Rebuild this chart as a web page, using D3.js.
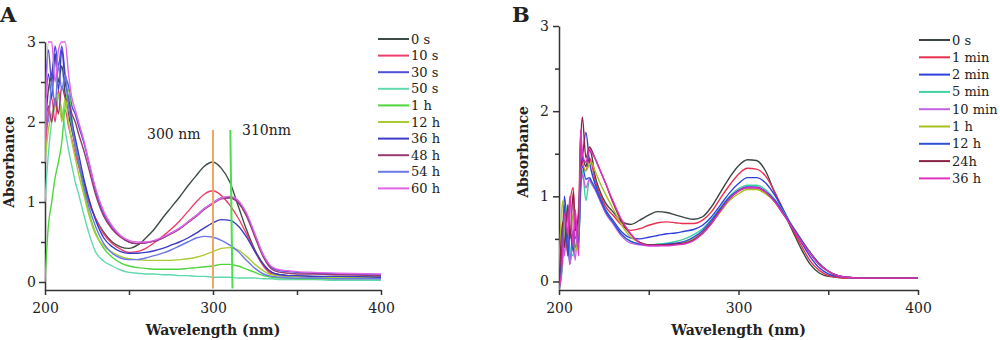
<!DOCTYPE html>
<html>
<head>
<meta charset="utf-8">
<script src="https://cdn.jsdelivr.net/npm/d3@7"></script>
<style>
  body { margin: 0; background: #fff; }
  text { font-family: "DejaVu Serif", serif; fill: #222; }
  .tick text { font-size: 14px; }
  .axis path, .axis line { stroke: #333; stroke-width: 1.5; }
  .title { font-weight: bold; font-size: 14px; }
  .panel { font-weight: bold; font-size: 21px; }
  .legend text { font-size: 13px; }
</style>
</head>
<body>
<div id="chart"></div>
<script>
// ---- panel A: wavelength grid + one array per series ----
const wlA = [200,202,204,206,208,210,212,214,216,218,220,223,226,230,235,240,245,250,255,260,265,270,275,280,285,290,295,300,305,310,315,320,325,330,335,340,345,350,360,375,400];
const namesA = ["0 s", "10 s", "30 s", "50 s", "1 h", "12 h", "36 h", "48 h", "54 h", "60 h"];
const a0s  = [1.9,2.4,2.6,2.85,2.5,2.7,2.35,2.1,1.9,1.7,1.5,1.25,1.02,0.8,0.62,0.5,0.44,0.42,0.46,0.55,0.66,0.8,0.93,1.06,1.2,1.33,1.45,1.5,1.42,1.25,0.95,0.65,0.4,0.22,0.12,0.09,0.08,0.07,0.07,0.06,0.06];
const a10s = [1.6,2.1,2.3,2.0,2.4,2.05,2.15,1.95,1.78,1.6,1.45,1.2,1.0,0.8,0.6,0.48,0.41,0.37,0.38,0.42,0.49,0.57,0.66,0.76,0.88,1.0,1.1,1.14,1.08,0.96,0.8,0.6,0.38,0.2,0.1,0.08,0.07,0.07,0.06,0.06,0.06];
const a30s = [2.3,2.9,2.5,2.95,2.7,2.95,2.6,2.45,2.2,2.1,1.95,1.75,1.5,1.15,0.85,0.68,0.57,0.5,0.48,0.49,0.51,0.55,0.61,0.67,0.75,0.83,0.92,0.99,1.05,1.06,1.0,0.84,0.58,0.33,0.18,0.14,0.13,0.12,0.11,0.1,0.09];
const a50s = [1.0,1.6,2.0,2.2,2.3,2.15,1.9,1.65,1.45,1.25,1.1,0.85,0.62,0.38,0.26,0.2,0.15,0.12,0.11,0.1,0.1,0.09,0.09,0.08,0.08,0.07,0.07,0.06,0.06,0.06,0.05,0.05,0.05,0.04,0.04,0.03,0.03,0.03,0.03,0.02,0.02];
const a1h  = [0,0.7,1.0,1.3,1.5,1.75,2.2,2.4,2.05,1.75,1.5,1.15,0.88,0.62,0.42,0.31,0.24,0.2,0.18,0.17,0.16,0.16,0.16,0.16,0.17,0.18,0.19,0.2,0.22,0.22,0.2,0.16,0.12,0.08,0.06,0.05,0.05,0.04,0.04,0.04,0.04];
const a12h = [1.5,1.9,2.1,2.2,2.35,2.0,2.3,2.0,1.75,1.55,1.35,1.1,0.85,0.6,0.45,0.37,0.32,0.29,0.28,0.27,0.27,0.27,0.27,0.28,0.29,0.31,0.34,0.38,0.42,0.43,0.4,0.32,0.22,0.14,0.09,0.08,0.07,0.07,0.06,0.06,0.06];
const a36h = [2.0,2.6,2.3,2.85,2.4,2.9,2.5,2.3,2.0,1.8,1.6,1.3,1.05,0.78,0.55,0.44,0.38,0.36,0.36,0.37,0.39,0.42,0.46,0.5,0.55,0.61,0.68,0.74,0.78,0.77,0.7,0.56,0.38,0.22,0.12,0.09,0.08,0.08,0.07,0.07,0.06];
const a48h = [1.8,2.2,2.0,2.3,2.1,2.45,2.3,2.25,2.1,2.0,1.85,1.65,1.42,1.1,0.82,0.66,0.56,0.5,0.48,0.49,0.51,0.55,0.6,0.66,0.74,0.82,0.91,0.98,1.04,1.05,0.99,0.82,0.56,0.31,0.16,0.12,0.11,0.1,0.1,0.09,0.08];
const a54h = [2.3,2.0,2.5,2.2,2.7,2.4,2.6,2.2,1.95,1.7,1.5,1.2,0.95,0.7,0.48,0.36,0.3,0.28,0.28,0.3,0.33,0.36,0.4,0.45,0.5,0.55,0.57,0.56,0.52,0.46,0.38,0.27,0.17,0.1,0.07,0.06,0.05,0.05,0.05,0.04,0.04];
const a60h = [1.5,3.0,3.0,2.5,2.9,3.0,3.0,2.6,2.3,2.15,2.0,1.78,1.52,1.18,0.88,0.7,0.58,0.52,0.5,0.5,0.52,0.56,0.61,0.67,0.75,0.83,0.92,0.99,1.05,1.07,1.02,0.86,0.6,0.34,0.19,0.15,0.14,0.13,0.12,0.11,0.1];
const colorsA = ["#3e4c47", "#ee3d6c", "#4f4fd9", "#62d9ac", "#4fd63c", "#a9cc31", "#3b3bc6", "#9a3a72", "#6b78e8", "#e064e8"];

// ---- panel B ----
const wlB = [200,202,203,205,206,208,209,211,212,213,215,217,218,220,223,226,230,235,240,245,250,255,260,265,270,275,280,285,290,295,300,305,310,315,320,325,330,335,340,345,350,355,360,370,385,400];
const namesB = ["0 s", "1 min", "2 min", "5 min", "10 min", "1 h", "12 h", "24h", "36 h"];
const b0s   = [-0.1,0.5,0.8,0.35,0.6,0.45,0.7,0.5,1.2,1.45,1.35,1.55,1.5,1.25,1.05,0.92,0.82,0.7,0.67,0.72,0.78,0.82,0.81,0.78,0.75,0.73,0.76,0.88,1.05,1.22,1.36,1.43,1.42,1.3,1.05,0.82,0.6,0.38,0.2,0.1,0.06,0.05,0.04,0.04,0.04,0.04];
const b1m   = [-0.1,0.4,0.7,0.3,0.9,1.1,0.5,0.8,1.75,1.4,1.3,1.45,1.4,1.2,1.02,0.88,0.78,0.66,0.6,0.62,0.66,0.69,0.7,0.69,0.68,0.68,0.72,0.82,0.98,1.13,1.26,1.33,1.32,1.24,1.06,0.84,0.62,0.42,0.24,0.13,0.07,0.05,0.04,0.04,0.04,0.04];
const b2m   = [-0.1,0.3,1.0,0.5,0.2,0.6,0.4,0.7,1.3,1.45,1.75,1.4,1.3,1.15,0.98,0.84,0.72,0.58,0.51,0.5,0.52,0.54,0.56,0.57,0.59,0.61,0.66,0.76,0.9,1.04,1.15,1.22,1.22,1.16,1.02,0.84,0.64,0.46,0.29,0.16,0.09,0.06,0.05,0.04,0.04,0.04];
const b5m   = [-0.1,0.2,0.6,0.9,0.4,0.3,0.7,0.5,1.0,1.3,0.95,1.2,1.18,1.1,0.95,0.82,0.7,0.55,0.47,0.44,0.43,0.44,0.45,0.47,0.5,0.55,0.62,0.73,0.87,1.0,1.09,1.13,1.13,1.08,0.97,0.82,0.65,0.49,0.34,0.21,0.12,0.07,0.05,0.04,0.04,0.04];
const b10m  = [-0.1,0.6,0.3,0.8,0.2,0.5,0.25,0.9,1.1,1.25,1.1,1.2,1.15,1.08,0.94,0.8,0.68,0.53,0.45,0.43,0.42,0.42,0.43,0.43,0.45,0.5,0.58,0.7,0.85,0.98,1.07,1.11,1.1,1.05,0.95,0.8,0.64,0.48,0.33,0.2,0.12,0.07,0.05,0.04,0.04,0.04];
const b1h   = [0.1,0.95,0.4,0.7,0.5,0.8,0.35,0.6,1.25,1.35,1.3,1.38,1.4,1.3,1.15,1.02,0.86,0.66,0.52,0.46,0.43,0.43,0.43,0.44,0.46,0.5,0.57,0.68,0.82,0.95,1.03,1.08,1.08,1.03,0.94,0.8,0.64,0.48,0.33,0.2,0.12,0.07,0.05,0.04,0.04,0.04];
const b12h  = [-0.1,0.5,0.9,0.3,0.6,0.35,0.75,0.45,1.1,1.35,1.2,1.22,1.18,1.1,0.96,0.82,0.7,0.55,0.47,0.44,0.43,0.43,0.44,0.45,0.47,0.52,0.6,0.72,0.86,0.99,1.07,1.11,1.11,1.06,0.96,0.81,0.65,0.49,0.34,0.21,0.12,0.07,0.05,0.04,0.04,0.04];
const b24h  = [-0.1,0.7,0.4,0.9,0.5,1.05,0.6,0.8,1.6,1.93,1.45,1.58,1.55,1.45,1.3,1.15,0.93,0.7,0.55,0.46,0.43,0.43,0.43,0.44,0.45,0.49,0.57,0.69,0.84,0.97,1.06,1.1,1.1,1.05,0.94,0.79,0.63,0.47,0.33,0.2,0.12,0.07,0.05,0.04,0.04,0.04];
const b36h  = [-0.1,0.3,0.8,0.55,1.0,0.4,0.85,0.3,1.78,1.5,1.4,1.55,1.52,1.45,1.3,1.15,0.95,0.72,0.56,0.45,0.42,0.42,0.42,0.43,0.44,0.48,0.56,0.68,0.83,0.97,1.06,1.1,1.1,1.05,0.94,0.79,0.63,0.47,0.33,0.2,0.12,0.07,0.05,0.04,0.04,0.04];
const colorsB = ["#3a4541", "#e8304f", "#2f3fe0", "#42d0a2", "#c262e2", "#a8c020", "#3050d8", "#8a2242", "#e232c2"];

const xTicks = [200, 300, 400];
const xMinor = [250, 350];
const yTicks = [0, 1, 2, 3];
const yMinor = [0.5, 1.5, 2.5];

const svg = d3.select("#chart").append("svg")
  .attr("width", 1000)
  .attr("height", 340);

function drawPanel(p) {
  const x = d3.scaleLinear().domain([200, 400]).range([p.x0, p.x1]);
  const y = d3.scaleLinear().domain([-0.1, 3]).range([p.yb, p.yt]);
  const g = svg.append("g");

  g.append("clipPath").attr("id", "clip" + p.id)
    .append("rect")
    .attr("x", p.x0).attr("y", p.yt - 1)
    .attr("width", p.x1 - p.x0).attr("height", p.yb - p.yt + 1);

  // axes
  g.append("g").attr("class", "axis")
    .attr("transform", "translate(0," + p.yb + ")")
    .call(d3.axisBottom(x).tickValues(xTicks).tickSize(5).tickSizeOuter(0).tickFormat(d3.format("d")))
    .call(s => s.selectAll(".tick text").attr("dy", "1.1em"));
  g.append("g").attr("class", "axis")
    .attr("transform", "translate(0," + p.yb + ")")
    .call(d3.axisBottom(x).tickValues(xMinor).tickSize(5).tickFormat(""))
    .call(s => s.select(".domain").remove());
  g.append("g").attr("class", "axis")
    .attr("transform", "translate(" + p.x0 + ",0)")
    .call(d3.axisLeft(y).tickValues(yTicks).tickSize(6).tickSizeOuter(0).tickFormat(d3.format("d")))
    .call(s => s.selectAll(".tick text").attr("x", -p.labOff));
  g.append("g").attr("class", "axis")
    .attr("transform", "translate(" + p.x0 + ",0)")
    .call(d3.axisLeft(y).tickValues(yMinor).tickSize(4).tickFormat(""))
    .call(s => s.select(".domain").remove());
  g.selectAll(".axis .tick text").style("font-family", "DejaVu Serif").style("font-size", "14px").attr("fill", "#222");

  const line = d3.line()
    .x((d, i) => x(p.wl[i]))
    .y(d => y(d))
    .curve(d3.curveMonotoneX);

  g.append("g").attr("clip-path", "url(#clip" + p.id + ")")
    .selectAll("path")
    .data(p.series)
    .enter().append("path")
    .attr("d", d => line(d))
    .attr("fill", "none")
    .attr("stroke", (d, i) => p.colors[i])
    .attr("stroke-width", 1.4)
    .attr("stroke-linejoin", "round");

  // legend
  const legend = g.selectAll(".legend")
    .data(p.names)
    .enter().append("g")
    .attr("class", "legend")
    .attr("transform", (d, i) => "translate(" + p.lx + "," + (p.ly + i * p.lstep) + ")");
  legend.append("line")
    .attr("x1", 0).attr("x2", 31)
    .attr("stroke", (d, i) => p.colors[i])
    .attr("stroke-width", 2);
  legend.append("text")
    .attr("x", 33)
    .attr("dy", "0.35em")
    .text(d => d);

  g.append("text").attr("class", "title")
    .attr("x", (p.x0 + p.x1) / 2).attr("y", 335)
    .attr("text-anchor", "middle")
    .text("Wavelength (nm)");
  g.append("text").attr("class", "title")
    .attr("transform", "translate(" + p.ax + "," + p.ay + ") rotate(-90)")
    .attr("text-anchor", "middle")
    .text("Absorbance");
  g.append("text").attr("class", "panel")
    .attr("x", p.px).attr("y", 22)
    .text(p.id);

  return { x, y, g };
}

const pa = drawPanel({
  id: "A", wl: wlA, series: [a0s, a10s, a30s, a50s, a1h, a12h, a36h, a48h, a54h, a60h],
  names: namesA, colors: colorsA,
  x0: 45, x1: 381, yt: 42, yb: 290, labOff: 9,
  lx: 378, ly: 39, lstep: 16.6, ax: 14, ay: 162, px: 0
});
const pb = drawPanel({
  id: "B", wl: wlB, series: [b0s, b1m, b2m, b5m, b10m, b1h, b12h, b24h, b36h],
  names: namesB, colors: colorsB,
  x0: 559, x1: 918, yt: 26, yb: 290, labOff: 10,
  lx: 919, ly: 40, lstep: 17.3, ax: 528, ay: 152, px: 512
});

// 300 nm and 310 nm markers on panel A
const marks = [
  { label: "300 nm", wl: [300, 300], abs: [1.9, -0.08], color: "#f3a463", tx: 147, ty: 139 },
  { label: "310nm", wl: [310.3, 311.6], abs: [1.9, -0.08], color: "#4be04b", tx: 242, ty: 135 }
];
marks.forEach(m => {
  pa.g.append("line")
    .attr("x1", pa.x(m.wl[0])).attr("x2", pa.x(m.wl[1]))
    .attr("y1", pa.y(m.abs[0])).attr("y2", pa.y(m.abs[1]))
    .attr("stroke", m.color).attr("stroke-width", 2);
  pa.g.append("text")
    .attr("x", m.tx).attr("y", m.ty)
    .style("font-size", "14px")
    .text(m.label);
});
</script>
</body>
</html>
